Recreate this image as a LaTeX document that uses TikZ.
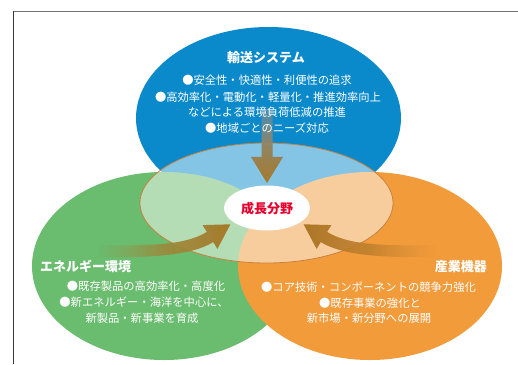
\documentclass[tikz,border=0pt]{standalone}
\usepackage{fontspec}
\newfontfamily\jp{Noto Sans CJK JP}
\usetikzlibrary{fadings}
\definecolor{cblue}{HTML}{0A89CB}
\definecolor{cgreen}{HTML}{6ABC6E}
\definecolor{corange}{HTML}{F29B3B}
\definecolor{cborder}{HTML}{C9813E}
\definecolor{cred}{HTML}{E5002D}
\definecolor{arrhead}{HTML}{A67A2A}
\definecolor{arrtop}{HTML}{7F8E98}
\definecolor{arrtailL}{HTML}{92964C}
\definecolor{arrtailR}{HTML}{D48A33}
\definecolor{arrheadR}{HTML}{AC7627}
\definecolor{topline}{HTML}{707070}
\definecolor{leftline}{HTML}{3A3A3A}
\tikzfading[name=tailL, left color=transparent!100, right color=transparent!0, middle color=transparent!10]
\tikzfading[name=tailR, left color=transparent!0, right color=transparent!100, middle color=transparent!10]
\tikzfading[name=tailT, top color=transparent!45, bottom color=transparent!0, middle color=transparent!0]
\tikzset{
  bodytext/.style={text=white, inner sep=0pt, font=\jp\fontsize{11.3}{14}\selectfont},
  titletext/.style={text=white, inner sep=0pt, font=\jp\bfseries\fontsize{13}{16}\selectfont},
  centertext/.style={text=cred, inner sep=0pt, font=\jp\bfseries\fontsize{13}{16}\selectfont},
}
\begin{document}
\begin{tikzpicture}[x=1pt,y=-1pt]
\useasboundingbox (0,0) rectangle (518,364);
\fill[white] (0,0) rectangle (518,364);
% frame
\draw[topline, line width=1.3pt] (13,11.5) -- (518,11.5);
\draw[leftline, line width=1pt] (13,11) -- (13,364);
% big ellipses
\fill[cblue] (268.5,118) ellipse [x radius=132.5pt, y radius=91pt];
\fill[cgreen] (164,266) ellipse [x radius=132pt, y radius=94pt];
\fill[corange] (370,266) ellipse [x radius=132pt, y radius=94pt];
% central overlay
\fill[white, opacity=0.5] (266.5,203) ellipse [x radius=126.5pt, y radius=60pt];
\draw[cborder, line width=0.8pt] (266.5,203) ellipse [x radius=126.5pt, y radius=60pt];
% arrows
\shade[top color=arrtop, bottom color=arrhead, path fading=tailT]
  (261.5,110) -- (272.5,110) -- (272.5,157) -- (283,157) -- (267,183)
  -- (251,157) -- (261.5,157) -- cycle;
\shade[left color=arrtailL, right color=arrhead, path fading=tailL]
  (98,245) .. controls (150,246) and (185.6,245.2) .. (206.8,231.9)
  -- (202.6,225.1) -- (230.4,224.3) -- (217.4,248.9) -- (213.2,242.1)
  .. controls (192,255.4) and (150,258) .. (98,257) -- cycle;
\shade[left color=arrheadR, right color=arrtailR, path fading=tailR]
  (436,245) .. controls (384,246) and (348.4,245.2) .. (327.2,231.9)
  -- (331.4,225.1) -- (303.6,224.3) -- (316.6,248.9) -- (320.8,242.1)
  .. controls (342,255.4) and (384,258) .. (436,257) -- cycle;
% centre
\fill[white] (267,208) ellipse [x radius=43pt, y radius=22.5pt];
\node[centertext] (core) at (267,209) {成長分野};
% top texts
\node[titletext] (tT) at (266,58) {輸送システム};
\node[bodytext] (t1) at (267,80) {●安全性・快適性・利便性の追求};
\node[bodytext] (t2) at (268,97) {●高効率化・電動化・軽量化・推進効率向上};
\node[bodytext] (t3) at (267,112.5) {などによる環境負荷低減の推進};
\node[bodytext] (t4) at (267,128) {●地域ごとのニーズ対応};
% left texts
\node[titletext, anchor=west] (lT) at (40,266) {エネルギー環境};
\node[bodytext] (l1) at (146,286) {●既存製品の高効率化・高度化};
\node[bodytext] (l2) at (144,302.5) {●新エネルギー・海洋を中心に、};
\node[bodytext] (l3) at (142,318) {新製品・新事業を育成};
% right texts
\node[titletext, anchor=east] (rT) at (487,267) {産業機器};
\node[bodytext] (r1) at (368.5,287) {●コア技術・コンポーネントの競争力強化};
\node[bodytext] (r2) at (370,303) {●既存事業の強化と};
\node[bodytext] (r3) at (369,318) {新市場・新分野への展開};
\end{tikzpicture}
\end{document}
